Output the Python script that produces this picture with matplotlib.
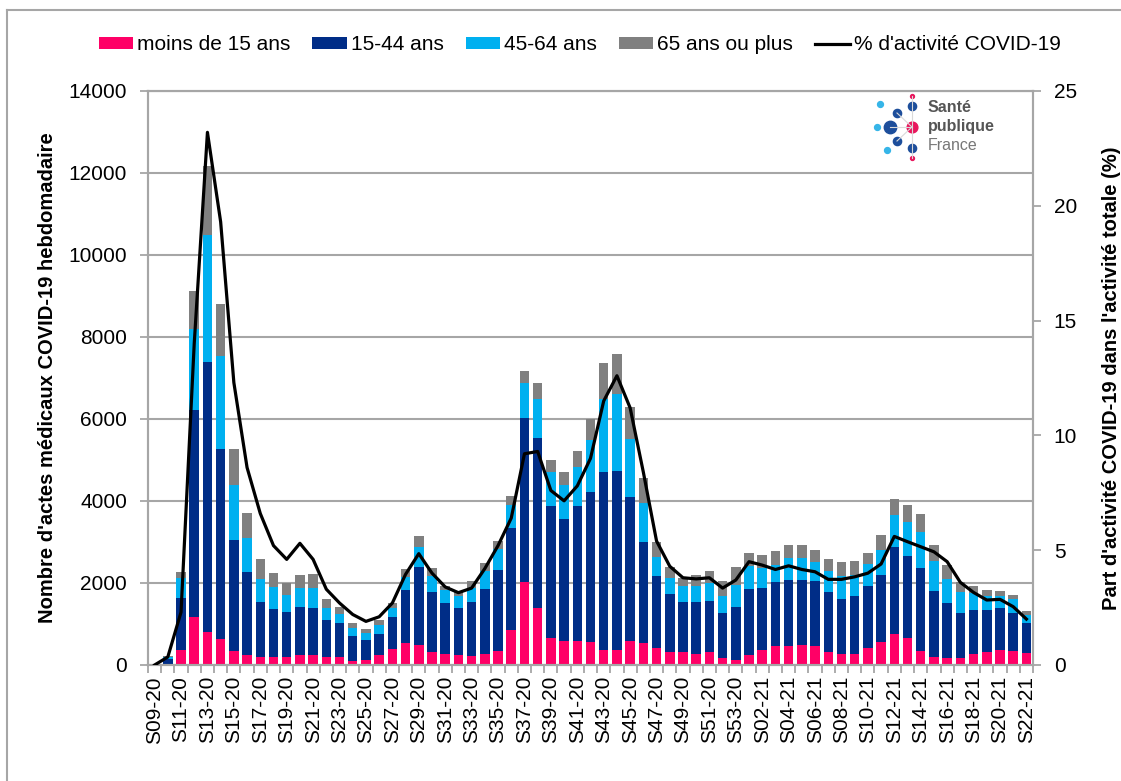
import numpy as np
import matplotlib
matplotlib.use("Agg")
import matplotlib.pyplot as plt
from matplotlib.lines import Line2D
from matplotlib.patches import Patch

plt.rcParams['font.family'] = ['Liberation Sans', 'DejaVu Sans']

# weeks S09-20 .. S53-20, S01-21 .. S22-21
semaines = [f"S{w:02d}-20" for w in range(9, 54)] + [f"S{w:02d}-21" for w in range(1, 23)]

moins_15 = [5, 20, 375, 1160, 810, 630, 350, 250, 190, 205, 205, 250, 250, 190, 185,
            95, 120, 235, 400, 530, 485, 320, 270, 245, 230, 270, 350, 855, 2030, 1400,
            665, 585, 585, 570, 365, 365, 585, 530, 425, 310, 310, 270, 310, 165, 120,
            245, 365, 475, 475, 490, 475, 310, 260, 260, 410, 555, 750, 670, 350, 205,
            180, 180, 260, 310, 365, 345, 300]
ans_15_44 = [10, 120, 1260, 5055, 6570, 4650, 2710, 2010, 1350, 1170, 1095, 1170, 1140, 905, 830,
             605, 490, 530, 760, 1310, 1895, 1450, 1235, 1155, 1315, 1585, 1965, 2495, 4000, 4145,
             3210, 2975, 3295, 3640, 4350, 4365, 3520, 2465, 1745, 1415, 1220, 1260, 1250, 1100, 1290,
             1615, 1510, 1550, 1610, 1590, 1565, 1460, 1355, 1435, 1525, 1650, 2120, 1985, 2015, 1590,
             1330, 1085, 1085, 1035, 1020, 920, 720]
ans_45_64 = [5, 60, 485, 1980, 3120, 2260, 1325, 840, 560, 530, 400, 450, 480, 300, 240,
             205, 180, 205, 230, 300, 510, 390, 325, 295, 340, 440, 510, 550, 855, 945,
             840, 830, 945, 1270, 1765, 1870, 1400, 965, 470, 405, 385, 385, 445, 425, 545,
             565, 490, 425, 515, 530, 465, 515, 565, 505, 530, 595, 800, 830, 880, 735,
             595, 505, 410, 345, 300, 350, 205]
ans_65_plus = [0, 20, 160, 935, 1670, 1260, 890, 610, 490, 330, 310, 315, 345, 215, 160,
               115, 95, 120, 125, 190, 260, 200, 100, 100, 165, 185, 195, 220, 295, 380,
               285, 325, 400, 520, 880, 985, 780, 610, 365, 250, 200, 270, 285, 365, 425,
               295, 310, 325, 320, 325, 295, 310, 325, 345, 270, 360, 385, 415, 450, 385,
               345, 255, 165, 130, 125, 100, 100]
pct_activite = [0.0, 0.35, 2.3, 14.0, 23.2, 19.3, 12.3, 8.6, 6.6, 5.2, 4.6, 5.3, 4.6, 3.3, 2.7,
                2.2, 1.9, 2.1, 2.7, 3.95, 4.85, 4.0, 3.4, 3.15, 3.35, 4.2, 5.2, 6.4, 9.2, 9.3,
                7.6, 7.15, 7.8, 9.0, 11.5, 12.6, 11.2, 8.4, 5.4, 4.3, 3.8, 3.75, 3.8, 3.35, 3.7,
                4.5, 4.35, 4.16, 4.32, 4.16, 4.06, 3.73, 3.73, 3.84, 4.0, 4.4, 5.6, 5.37, 5.15, 4.93,
                4.5, 3.6, 3.16, 2.83, 2.86, 2.54, 2.0]

series = [("moins de 15 ans", moins_15, "#FF0066"),
          ("15-44 ans", ans_15_44, "#002D87"),
          ("45-64 ans", ans_45_64, "#00B0F0"),
          ("65 ans ou plus", ans_65_plus, "#808080")]
grid_col = "#A6A6A6"

fig = plt.figure(figsize=(11.21, 7.81), dpi=100)
ax = fig.add_axes([148 / 1121, 1 - 665 / 781, 885 / 1121, 574 / 781])
x = np.arange(len(semaines))

bottom = np.zeros(len(semaines))
for name, vals, col in series:
    ax.bar(x, vals, width=0.72, bottom=bottom, color=col, zorder=2)
    bottom += np.array(vals)

ax.set_xlim(-0.5, len(semaines) - 0.5)
ax.set_ylim(0, 14000)
ax.set_yticks(range(0, 14001, 2000))
ax.yaxis.grid(True, color=grid_col, lw=1.5)
ax.set_axisbelow(True)
ax.set_xticks(x[::2])
ax.set_xticklabels(semaines[::2], rotation=90, fontsize=15)
ax.set_xticks(np.arange(-0.5, len(semaines)), minor=True)
ax.tick_params(axis='x', which='major', length=0, pad=8)
ax.tick_params(axis='x', which='minor', length=6, color=grid_col, width=1.3)
ax.tick_params(axis='y', labelsize=15, length=6, color=grid_col, width=1.3, pad=9)
for s in ax.spines.values():
    s.set_color(grid_col)
    s.set_linewidth(1.5)
ax.set_ylabel("Nombre d'actes médicaux COVID-19 hebdomadaire", fontsize=14.5,
              fontweight='bold', labelpad=8)

ax2 = ax.twinx()
ax2.plot(x, pct_activite, color='black', lw=2.3, zorder=3)
ax2.set_ylim(0, 25)
ax2.set_yticks(range(0, 26, 5))
ax2.tick_params(axis='y', labelsize=15, length=6, color=grid_col, width=1.3, pad=9)
for s in ax2.spines.values():
    s.set_color(grid_col)
    s.set_linewidth(1.5)
ax2.set_ylabel("Part d'activité COVID-19 dans l'activité totale (%)", fontsize=14.5,
               fontweight='bold', labelpad=18)

handles = [Patch(facecolor=c, label=n) for n, v, c in series]
handles.append(Line2D([0], [0], color='black', lw=2.3, label="% d'activité COVID-19"))
fig.legend(handles=handles, loc='center', bbox_to_anchor=(0.517, 1 - 45 / 781), ncol=5,
           frameon=False, fontsize=15, handlelength=1.65, handleheight=0.55,
           handletextpad=0.2, columnspacing=1.05)

# Santé publique France logo
lg = fig.add_axes([870 / 1121, 1 - 162 / 781, 140 / 1121, 70 / 781])
lg.set_xlim(0, 140)
lg.set_ylim(70, 0)
lg.axis('off')
lg.plot([42, 42], [4, 66], color='#D9D9D9', lw=0.8)
for (px, py) in [(20, 35), (27, 21), (27, 49)]:
    lg.plot([px, 42], [py, 35], color='#D9D9D9', lw=0.8)
lg.scatter([42, 42], [4, 66], s=8, color='#E8175D')
lg.scatter([42], [35], s=60, color='#E8175D')
lg.scatter([42, 42, 27, 27], [14, 56, 21, 49], s=35, color='#1D4E9B')
lg.scatter([20], [35], s=80, color='#1D4E9B')
lg.scatter([10, 17, 7], [12, 58, 35], s=18, color='#36B5E8')
lg.text(58, 16, "Santé", fontsize=11.5, fontweight='bold', color='#555555', va='center')
lg.text(58, 35, "publique", fontsize=11.5, fontweight='bold', color='#555555', va='center')
lg.text(58, 54, "France", fontsize=11.5, color='#777777', va='center')

# outer frame
fig.add_artist(Line2D([7 / 1121, 7 / 1121], [0, 1 - 10 / 781], transform=fig.transFigure,
                      color=grid_col, lw=1.5))
fig.add_artist(Line2D([7 / 1121, 1], [1 - 10 / 781, 1 - 10 / 781], transform=fig.transFigure,
                      color=grid_col, lw=1.5))

fig.savefig("out.png", dpi=100)
